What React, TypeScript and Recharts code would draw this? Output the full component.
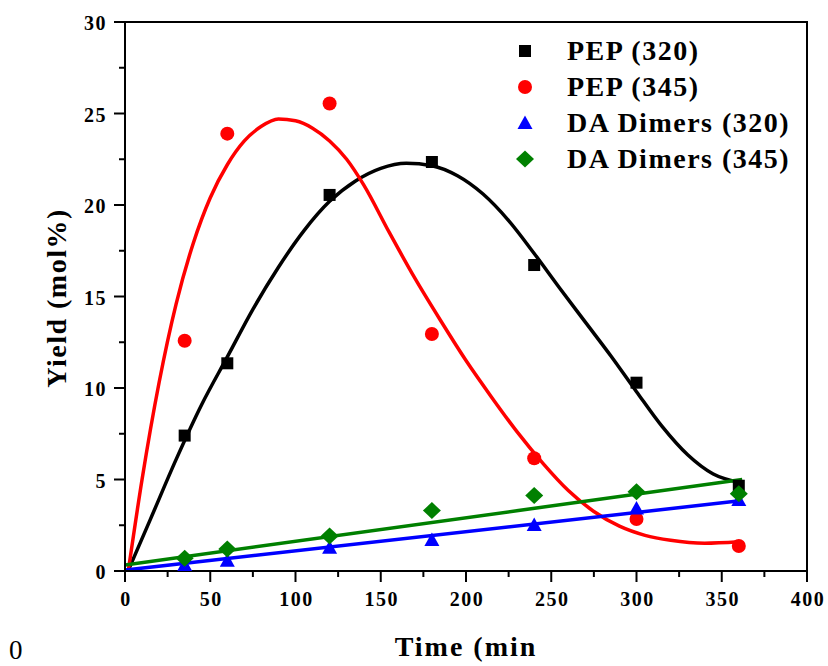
import React from "react"
import { ComposedChart, Line, Scatter, XAxis, YAxis, ReferenceArea, Legend } from "recharts"

const times = [35, 60, 120, 180, 240, 300, 360]
const pep320 = [7.4, 11.35, 20.55, 22.35, 16.72, 10.29, 4.66]
const pep345 = [12.58, 23.9, 25.55, 12.95, 6.16, 2.84, 1.37]
const daDimers320 = [0.33, 0.56, 1.27, 1.69, 2.51, 3.42, 3.88]
const daDimers345 = [0.69, 1.2, 1.91, 3.3, 4.12, 4.33, 4.22]

// fitted curves
const pep320FitX = [2, 15, 30, 45, 60, 75, 90, 105, 120, 135, 150, 165, 180, 195, 210, 225, 240, 255, 270, 285, 300, 315, 330, 345, 360]
const pep320FitY = [0.05, 2.85, 6.1, 9.1, 11.7, 14.3, 16.6, 18.6, 20.2, 21.3, 22.0, 22.28, 22.15, 21.6, 20.6, 19.15, 17.35, 15.45, 13.6, 11.75, 9.8, 7.9, 6.35, 5.3, 4.85]
const pep345FitX = [2, 10, 20, 30, 40, 50, 60, 70, 80, 90, 100, 110, 120, 130, 140, 155, 170, 185, 200, 215, 230, 245, 260, 275, 290, 305, 320, 340, 360]
const pep345FitY = [0.05, 5.0, 10.3, 14.6, 17.9, 20.4, 22.2, 23.5, 24.3, 24.7, 24.6, 24.2, 23.5, 22.5, 21.1, 18.5, 16.0, 13.7, 11.5, 9.5, 7.6, 5.9, 4.4, 3.25, 2.45, 1.95, 1.68, 1.52, 1.6]
const dimers320FitX = [0, 362]
const dimers320FitY = [0.05, 3.85]
const dimers345FitX = [0, 362]
const dimers345FitY = [0.33, 5.0]

const xTicks = [0, 25, 50, 75, 100, 125, 150, 175, 200, 225, 250, 275, 300, 325, 350, 375, 400]
const yTicks = [0, 2.5, 5, 7.5, 10, 12.5, 15, 17.5, 20, 22.5, 25, 27.5, 30]

const pts = (xs: number[], ys: number[]) => xs.map((x, i) => ({ x, y: ys[i] }))

const font = "'Liberation Serif', 'Times New Roman', serif"

const series = [
  { name: "PEP (320)", color: "#000000", shape: "square" },
  { name: "PEP (345)", color: "#ff0000", shape: "circle" },
  { name: "DA Dimers (320)", color: "#0000ff", shape: "triangle" },
  { name: "DA Dimers (345)", color: "#008000", shape: "diamond" },
]

function Marker({ kind, cx, cy, fill }: { kind: string; cx: number; cy: number; fill: string }) {
  if (kind === "square") return <rect x={cx - 6} y={cy - 6} width={12} height={12} fill={fill} />
  if (kind === "circle") return <circle cx={cx} cy={cy} r={7} fill={fill} />
  if (kind === "triangle")
    return <polygon points={`${cx},${cy - 7.5} ${cx - 7.5},${cy + 6} ${cx + 7.5},${cy + 6}`} fill={fill} />
  return <polygon points={`${cx},${cy - 8.5} ${cx + 9},${cy} ${cx},${cy + 8.5} ${cx - 9},${cy}`} fill={fill} />
}

const shapeFor = (kind: string, color: string) => (props: any) =>
  <Marker kind={kind} cx={props.cx} cy={props.cy} fill={color} />

function XTick({ x, y, payload }: any) {
  const major = payload.value % 50 === 0
  return (
    <g>
      <line x1={x} x2={x} y1={y} y2={y + (major ? 11 : 6)} stroke="#000" strokeWidth={2} />
      {major && (
        <text x={x + 1} y={y + 35} textAnchor="middle" fontFamily={font} fontWeight="bold" fontSize={20}
          letterSpacing={1.5} fill="#000">
          {payload.value}
        </text>
      )}
    </g>
  )
}

function YTick({ x, y, payload }: any) {
  const major = payload.value % 5 === 0
  return (
    <g>
      <line x1={x} x2={x - (major ? 11 : 6)} y1={y} y2={y} stroke="#000" strokeWidth={2} />
      {major && (
        <text x={x - 18} y={y + 8} textAnchor="end" fontFamily={font} fontWeight="bold" fontSize={20}
          letterSpacing={1.5} fill="#000">
          {payload.value}
        </text>
      )}
    </g>
  )
}

function LegendBox() {
  return (
    <div style={{ fontFamily: font, fontWeight: "bold", fontSize: 28, letterSpacing: 1.5, color: "#000" }}>
      {series.map((s) => (
        <div key={s.name} style={{ display: "flex", alignItems: "center", height: 36, lineHeight: "36px" }}>
          <svg width={40} height={36} style={{ display: "block" }}>
            <Marker kind={s.shape} cx={20} cy={18} fill={s.color} />
          </svg>
          <span style={{ marginLeft: 22, whiteSpace: "nowrap" }}>{s.name}</span>
        </div>
      ))}
    </div>
  )
}

export default function App() {
  return (
    <div style={{ position: "absolute", left: 0, top: 0, width: 828, height: 666, background: "#fff" }}>
      <ComposedChart width={828} height={666} margin={{ top: 22, right: 21, bottom: 0, left: 0 }}>
        <XAxis
          type="number"
          dataKey="x"
          domain={[0, 400]}
          ticks={xTicks}
          interval={0}
          height={95}
          tickSize={0}
          tickMargin={0}
          tickLine={false}
          tick={<XTick />}
          axisLine={{ stroke: "#000", strokeWidth: 2 }}
          allowDataOverflow
        />
        <YAxis
          type="number"
          dataKey="y"
          domain={[0, 30]}
          ticks={yTicks}
          interval={0}
          width={125}
          tickSize={0}
          tickMargin={0}
          tickLine={false}
          tick={<YTick />}
          axisLine={{ stroke: "#000", strokeWidth: 2 }}
          allowDataOverflow
        />
        <ReferenceArea x1={0} x2={400} y1={0} y2={30} fill="none" stroke="#000" strokeWidth={2} />

        <Line data={pts(pep320FitX, pep320FitY)} dataKey="y" type="monotone" stroke="#000000" strokeWidth={3.5}
          dot={false} isAnimationActive={false} legendType="none" />
        <Scatter data={pts(times, pep320)} dataKey="y" shape={shapeFor("square", "#000000")} isAnimationActive={false} />

        <Line data={pts(pep345FitX, pep345FitY)} dataKey="y" type="monotone" stroke="#ff0000" strokeWidth={3.5}
          dot={false} isAnimationActive={false} legendType="none" />
        <Scatter data={pts(times, pep345)} dataKey="y" shape={shapeFor("circle", "#ff0000")} isAnimationActive={false} />

        <Line data={pts(dimers320FitX, dimers320FitY)} dataKey="y" type="linear" stroke="#0000ff" strokeWidth={3.5}
          dot={false} isAnimationActive={false} legendType="none" />
        <Scatter data={pts(times, daDimers320)} dataKey="y" shape={shapeFor("triangle", "#0000ff")} isAnimationActive={false} />

        <Line data={pts(dimers345FitX, dimers345FitY)} dataKey="y" type="linear" stroke="#008000" strokeWidth={3.5}
          dot={false} isAnimationActive={false} legendType="none" />
        <Scatter data={pts(times, daDimers345)} dataKey="y" shape={shapeFor("diamond", "#008000")} isAnimationActive={false} />

        <Legend
          layout="vertical"
          align="center"
          verticalAlign="middle"
          content={<LegendBox />}
          wrapperStyle={{ position: "absolute", left: 505, top: 33, width: 300 }}
        />

        <text x={66} y={298} transform="rotate(-90 66 298)" textAnchor="middle" fontFamily={font} fontWeight="bold"
          fontSize={28} letterSpacing={1.5} fill="#000">
          Yield (mol%)
        </text>
        <text x={466} y={656} textAnchor="middle" fontFamily={font} fontWeight="bold" fontSize={28}
          letterSpacing={2} fill="#000">
          Time (min
        </text>
        <text x={9} y={659} fontFamily={font} fontSize={27} fill="#000">
          0
        </text>
      </ComposedChart>
    </div>
  )
}
